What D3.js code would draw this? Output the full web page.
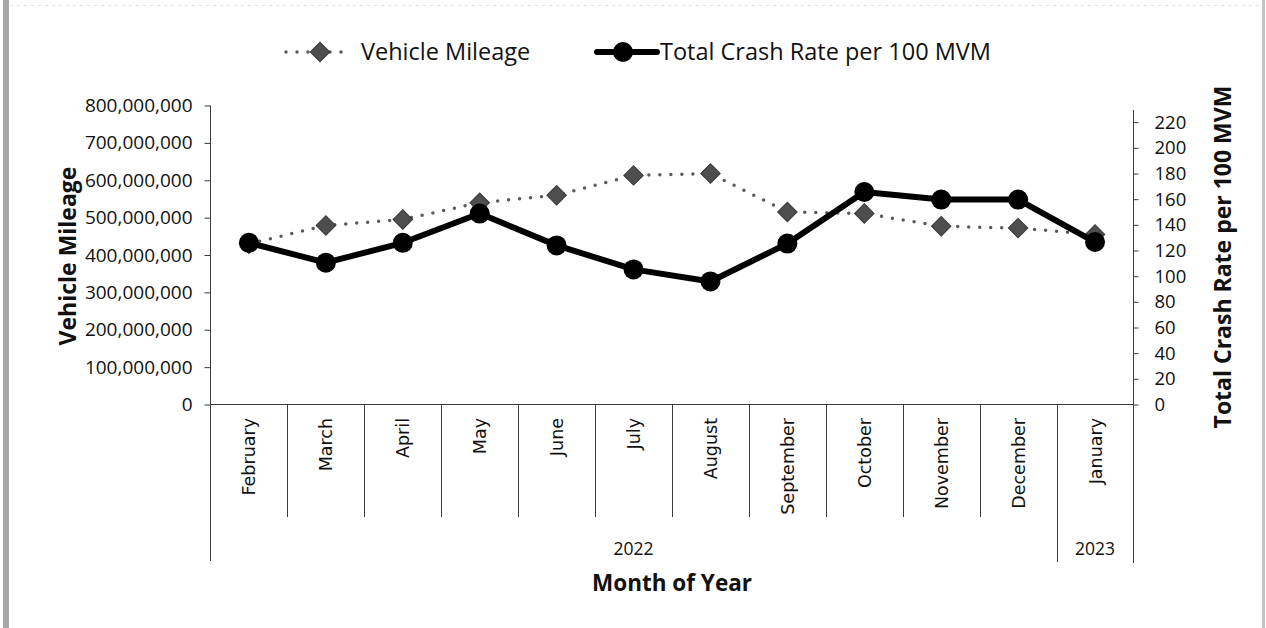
<!DOCTYPE html>
<html><head><meta charset="utf-8">
<script src="https://cdn.jsdelivr.net/npm/d3@7"></script>
<style>html,body{margin:0;padding:0;background:#fff}</style>
</head><body>
<svg id="c" width="1266" height="628"></svg>
<script>
const months = ["February","March","April","May","June","July","August","September","October","November","December","January"];
const yearGroups = [{label:"2022", start:0, end:11},{label:"2023", start:11, end:12}];
const vehicleMileage = [430e6,479e6,495e6,540e6,560e6,613e6,618e6,515e6,511e6,477e6,472e6,455e6];
const crashRate = [126,110.5,126,148.8,124,105.3,95.9,125.4,165.6,159.7,159.7,126.6];
const leftTicks = [0,100e6,200e6,300e6,400e6,500e6,600e6,700e6,800e6];
const rightTicks = [0,20,40,60,80,100,120,140,160,180,200,220];

const svg = d3.select("#c");
const L = 210.5, R = 1133.5, T = 105.5, B = 404.5;
const calib = "'Open Sans', 'Liberation Sans', sans-serif";

// scan edges
svg.append("rect").attr("x",3).attr("y",0).attr("width",6).attr("height",628).attr("fill","#a8a8a8");
svg.append("rect").attr("x",1262).attr("y",0).attr("width",3).attr("height",628).attr("fill","#c4c4c4");
svg.append("line").attr("x1",10).attr("x2",1262).attr("y1",5.5).attr("y2",5.5).attr("stroke","#e2e2e2").attr("stroke-dasharray","3 4");

const x = d3.scaleBand().domain(d3.range(months.length)).range([L,R]).paddingInner(0).paddingOuter(0);
const cx = i => x(i) + x.bandwidth()/2;
const yL = d3.scaleLinear().domain([0,800e6]).range([B,T]);
const yR = d3.scaleLinear().domain([0,229.5]).range([B,110]);

const axisColor = "#3a3a3a";
// left axis
const gL = svg.append("g").attr("transform",`translate(${L},0)`)
  .call(d3.axisLeft(yL).tickValues(leftTicks).tickSize(6).tickPadding(12).tickFormat(d3.format(",")));
gL.select(".domain").attr("stroke",axisColor).attr("d",`M0,${T}V${B}`);
gL.selectAll(".tick line").attr("stroke",axisColor);
gL.selectAll(".tick text").attr("font-family",calib).attr("font-size",19).attr("fill","#111");

// right axis
const gR = svg.append("g").attr("transform",`translate(${R},0)`)
  .call(d3.axisRight(yR).tickValues(rightTicks).tickSize(5).tickPadding(16));
gR.select(".domain").attr("stroke",axisColor).attr("d",`M0,110V${B}`);
gR.selectAll(".tick line").attr("stroke",axisColor);
gR.selectAll(".tick text").attr("font-family",calib).attr("font-size",18.5).attr("fill","#111");

// category axis
svg.append("line").attr("x1",L).attr("x2",R).attr("y1",B).attr("y2",B).attr("stroke",axisColor);
const bounds = d3.range(1,months.length);
svg.selectAll(".sep").data(bounds).join("line")
  .attr("x1",i=>Math.round(x(i))+0.5).attr("x2",i=>Math.round(x(i))+0.5)
  .attr("y1",B).attr("y2",i=> yearGroups.some(g=>g.start===i) ? 562 : 517)
  .attr("stroke",axisColor);
svg.append("line").attr("x1",L).attr("x2",L).attr("y1",B).attr("y2",561).attr("stroke",axisColor);
svg.append("line").attr("x1",R).attr("x2",R).attr("y1",B).attr("y2",563).attr("stroke",axisColor);

svg.selectAll(".mlab").data(months).join("text")
  .attr("transform",(d,i)=>`translate(${cx(i)+6.5},418) rotate(-90)`)
  .attr("text-anchor","end")
  .attr("font-family","'DejaVu Sans', Verdana, sans-serif").attr("font-size",17.5).attr("fill","#111")
  .text(d=>d);

svg.selectAll(".ylab").data(yearGroups).join("text")
  .attr("x",g=>(x(g.start)+ (g.end<months.length ? x(g.end) : R))/2)
  .attr("y",555)
  .attr("text-anchor","middle").attr("font-family",calib).attr("font-size",17.5).attr("fill","#111")
  .text(g=>g.label);

// axis titles
svg.append("text").attr("x",672).attr("y",591).attr("text-anchor","middle")
  .attr("font-family",calib).attr("font-weight","bold").attr("font-size",22.5).attr("fill","#111").text("Month of Year");
svg.append("text").attr("transform","translate(76,256) rotate(-90)").attr("text-anchor","middle")
  .attr("font-family",calib).attr("font-weight","bold").attr("font-size",23).attr("fill","#111").text("Vehicle Mileage");
svg.append("text").attr("transform","translate(1231,257) rotate(-90)").attr("text-anchor","middle")
  .attr("font-family",calib).attr("font-weight","bold").attr("font-size",23).attr("fill","#111").text("Total Crash Rate per 100 MVM");

// series: vehicle mileage (dotted + diamonds)
const dotColor = "#5a5a5a";
const lineVM = d3.line().x((d,i)=>cx(i)).y(d=>yL(d));
svg.append("path").datum(vehicleMileage).attr("d",lineVM).attr("fill","none")
  .attr("stroke",dotColor).attr("stroke-width",3.5).attr("stroke-linecap","round").attr("stroke-dasharray","0 11");
const diamond = d3.symbol().type(d3.symbolSquare).size(190);
svg.selectAll(".dia").data(vehicleMileage).join("path")
  .attr("d",diamond).attr("transform",(d,i)=>`translate(${cx(i)},${yL(d)}) rotate(45)`)
  .attr("fill","#4e4e4e").attr("stroke","#3a3a3a").attr("stroke-width",1);

// series: crash rate
const lineCR = d3.line().x((d,i)=>cx(i)).y(d=>yR(d));
svg.append("path").datum(crashRate).attr("d",lineCR).attr("fill","none")
  .attr("stroke","#000").attr("stroke-width",6).attr("stroke-linejoin","round");
svg.selectAll(".cir").data(crashRate).join("circle")
  .attr("cx",(d,i)=>cx(i)).attr("cy",d=>yR(d)).attr("r",10).attr("fill","#000");

// legend
const ly = 52;
svg.append("line").attr("x1",286).attr("x2",350).attr("y1",ly).attr("y2",ly)
  .attr("stroke",dotColor).attr("stroke-width",3.5).attr("stroke-linecap","round").attr("stroke-dasharray","0 11");
svg.append("path").attr("d",diamond).attr("transform",`translate(320,${ly}) rotate(45)`).attr("fill","#4e4e4e").attr("stroke","#3a3a3a");
svg.append("text").attr("x",361).attr("y",ly+8).attr("font-family",calib).attr("font-size",23.5).attr("fill","#111").text("Vehicle Mileage");
svg.append("line").attr("x1",597).attr("x2",657).attr("y1",ly).attr("y2",ly).attr("stroke","#000").attr("stroke-width",6).attr("stroke-linecap","round");
svg.append("circle").attr("cx",623).attr("cy",ly).attr("r",10).attr("fill","#000");
svg.append("text").attr("x",660).attr("y",ly+8).attr("font-family",calib).attr("font-size",23.5).attr("fill","#111").text("Total Crash Rate per 100 MVM");
</script>
</body></html>
